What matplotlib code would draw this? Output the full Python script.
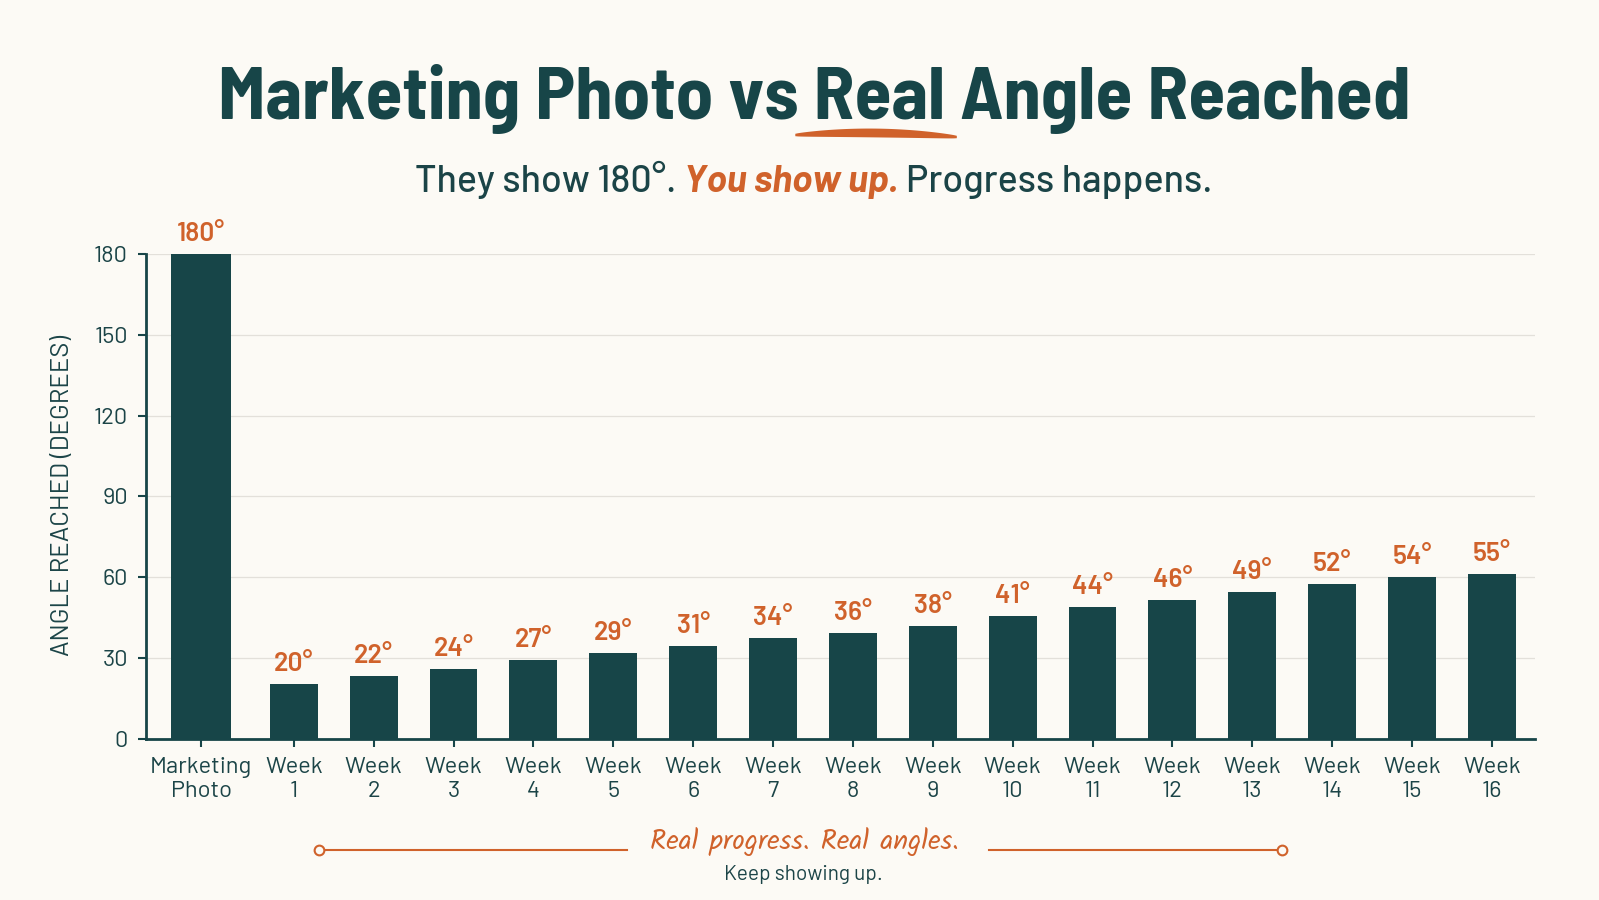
import numpy as np
import matplotlib
matplotlib.use('Agg')
import matplotlib.pyplot as plt
from matplotlib.lines import Line2D
from matplotlib.patches import Polygon

# data
categories = ['Marketing\nPhoto', 'Week\n1', 'Week\n2', 'Week\n3', 'Week\n4', 'Week\n5',
              'Week\n6', 'Week\n7', 'Week\n8', 'Week\n9', 'Week\n10', 'Week\n11',
              'Week\n12', 'Week\n13', 'Week\n14', 'Week\n15', 'Week\n16']
bar_heights = [180, 20.5, 23.5, 26, 29.5, 32, 34.5, 37.5, 39.5, 42, 45.5, 49, 51.5,
               54.5, 57.5, 60, 61.3]
angle_labels = [180, 20, 22, 24, 27, 29, 31, 34, 36, 38, 41, 44, 46, 49, 52, 54, 55]
y_ticks = [0, 30, 60, 90, 120, 150, 180]

TITLE = 'Marketing Photo vs Real Angle Reached'
SUB_PARTS = ['They show 180°.', 'You show up.', 'Progress happens.']
FOOT_SCRIPT = 'Real progress. Real angles.'
FOOT_TEXT = 'Keep showing up.'

BG = '#fcfaf5'
TEAL = '#174548'
TXT = '#1b4447'
ORANGE = '#d0622b'
GRID = '#e3e0da'

TITLE_FONT = ['Barlow Semi Condensed', 'Roboto Condensed', 'Liberation Sans Narrow', 'DejaVu Sans']
BODY_FONT = ['Barlow', 'Roboto', 'DejaVu Sans']
HAND_FONT = ['Kalam', 'Caveat', 'Liberation Serif', 'DejaVu Serif']

W, H = 1599, 900
fig = plt.figure(figsize=(W / 100, H / 100), dpi=100, facecolor=BG)
renderer = fig.canvas.get_renderer()


def fx(px):
    return px / W


def fy(py):
    return 1 - py / H


def width_px(t):
    return t.get_window_extent(renderer).width


def fit_text(t, target):
    t.set_fontsize(t.get_fontsize() * target / width_px(t))


# ---- axes ----
ax = fig.add_axes([fx(146), fy(739), fx(1535) - fx(146), fy(254) - fy(739)])
ax.set_facecolor(BG)

x = np.concatenate([[-0.16], np.arange(1, 17)])
widths = [0.75] + [0.6] * 16
ax.bar(x, bar_heights, width=widths, color=TEAL, zorder=3)
ax.set_xlim(-0.85, 16.54)
ax.set_ylim(0, 180)
ax.set_yticks(y_ticks)
ax.yaxis.grid(True, color=GRID, lw=0.9, zorder=0)
ax.set_axisbelow(True)
for s in ['top', 'right']:
    ax.spines[s].set_visible(False)
for s in ['left', 'bottom']:
    ax.spines[s].set_color(TEAL)
    ax.spines[s].set_linewidth(2)

ax.set_xticks(x)
ax.set_xticklabels(categories, linespacing=1.2)
ax.tick_params(axis='both', colors=TEAL, labelcolor=TXT, labelsize=17,
               length=6, width=1.5, direction='out', pad=7)
for lab in ax.get_xticklabels() + ax.get_yticklabels():
    lab.set_family(BODY_FONT)

for xi, h, a in zip(x, bar_heights, angle_labels):
    ax.annotate(f'{a}°', (xi, h), xytext=(0, 20), textcoords='offset pixels',
                ha='center', va='center', color=ORANGE, fontsize=19,
                fontweight='semibold', family=BODY_FONT, annotation_clip=False)

yl = fig.text(fx(63), fy(495), 'ANGLE REACHED (DEGREES)', ha='center',
              va='center', color=TXT, fontsize=16, family=BODY_FONT)
fit_text(yl, 322)
yl.set_rotation(90)

# ---- title ----
title_kw = dict(fontweight='bold', family=TITLE_FONT, color=TEAL)
t = fig.text(fx(814), fy(119), TITLE, ha='center', va='baseline', fontsize=56, **title_kw)
fit_text(t, 1193)
bb = t.get_window_extent(renderer)
tmp = fig.text(0, 0, 'Marketing Photo vs Real', fontsize=t.get_fontsize(), **title_kw)
w_prefix = width_px(tmp)
tmp.set_text('Real')
w_real = width_px(tmp)
tmp.remove()
real_r = bb.x0 + w_prefix
real_l = real_r - w_real

# brush underline under "Real"
u0, u1 = real_l - 18, real_r + 12
tt = np.linspace(0, 1, 60)
xs = u0 + (u1 - u0) * tt
mid = H - 135 + 3 * (1 - (2 * tt - 1) ** 2) - 2 * tt
thick = 1.2 + 3.2 * np.sin(np.pi * tt) ** 0.7
pts = np.vstack([np.column_stack([xs, mid + thick]),
                 np.column_stack([xs[::-1], (mid - thick)[::-1]])])
fig.patches.append(Polygon(pts / [W, H], closed=True, transform=fig.transFigure,
                           facecolor=ORANGE, edgecolor='none'))

# ---- subtitle ----
sub_kw = [dict(color=TXT, fontweight='medium'),
          dict(color=ORANGE, fontweight='bold', style='italic'),
          dict(color=TXT, fontweight='medium')]
sub_size = 26
subs = [fig.text(0, fy(192), s, va='baseline', ha='left', fontsize=sub_size,
                 family=BODY_FONT, **k) for s, k in zip(SUB_PARTS, sub_kw)]
tmp = fig.text(0, 0, 'a a', fontsize=sub_size, family=BODY_FONT)
sp = width_px(tmp)
tmp.set_text('aa')
sp -= width_px(tmp)
tmp.remove()
ws = [width_px(s) for s in subs]
scale = 798 / (sum(ws) + 2 * sp)
for s in subs:
    s.set_fontsize(sub_size * scale)
ws = [width_px(s) for s in subs]
sp *= scale
cur = 814 - (sum(ws) + 2 * sp) / 2
for s, w in zip(subs, ws):
    s.set_x(fx(cur))
    cur += w + sp

# ---- footer ----
fs = fig.text(fx(804), fy(842), FOOT_SCRIPT, ha='center', va='center', color=ORANGE,
              fontsize=20, family=HAND_FONT)
fit_text(fs, 309)
fk = fig.text(fx(803), fy(875), FOOT_TEXT, ha='center', va='center', color=TXT,
              fontsize=14, family=BODY_FONT)
fit_text(fk, 159)

ly = fy(850)
for xa, xb, xc in [(323, 627, 319), (989, 1278, 1282)]:
    fig.add_artist(Line2D([fx(xa), fx(xb)], [ly, ly], color=ORANGE, lw=1.5,
                          transform=fig.transFigure))
    fig.add_artist(Line2D([fx(xc)], [ly], marker='o', markersize=7,
                          markerfacecolor=BG, markeredgecolor=ORANGE, mew=1.5,
                          transform=fig.transFigure))

fig.savefig('out.png', dpi=100, facecolor=BG)
